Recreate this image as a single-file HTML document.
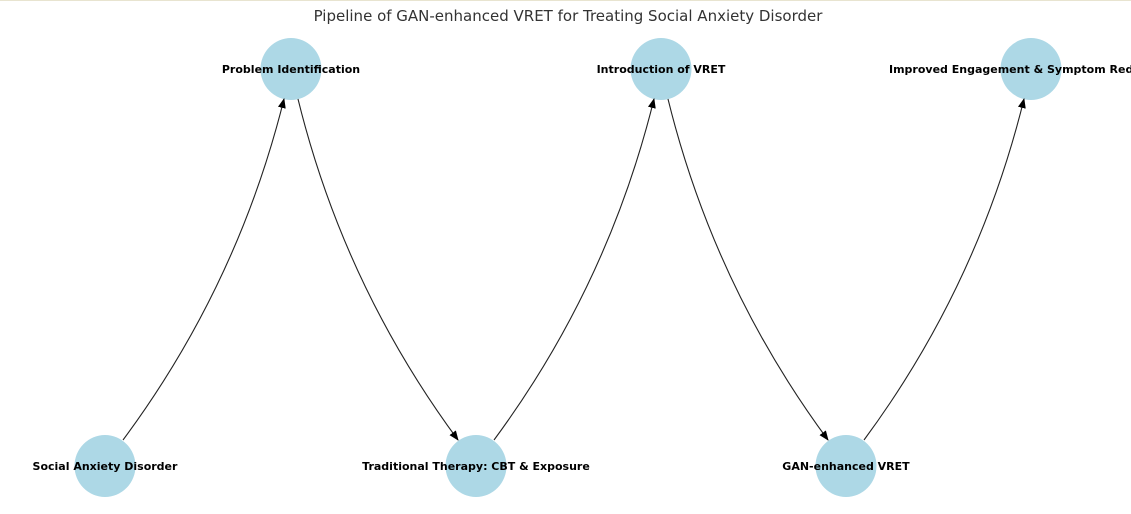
<!DOCTYPE html>
<html><head><meta charset="utf-8"><style>
html,body{margin:0;padding:0;background:#fff;}
svg{display:block;}
</style></head><body>
<svg width="1131" height="514" viewBox="0 0 1131 514" xmlns="http://www.w3.org/2000/svg">
<defs>
<marker id="ah" markerWidth="10" markerHeight="8" refX="9" refY="4" orient="auto" markerUnits="userSpaceOnUse">
<path d="M0,0 L10,4 L0,8 Z" fill="#000"/>
</marker>
</defs>
<rect x="0" y="0" width="1131" height="1" fill="#e8e4d0"/>
<text x="568" y="21" text-anchor="middle" font-family="DejaVu Sans, sans-serif" font-size="15" fill="#333">Pipeline of GAN-enhanced VRET for Treating Social Anxiety Disorder</text>
<g fill="#add8e6">
<ellipse cx="105" cy="466" rx="30.5" ry="31"/>
<ellipse cx="291" cy="69" rx="30.5" ry="31"/>
<ellipse cx="476" cy="466" rx="30.5" ry="31"/>
<ellipse cx="661" cy="69" rx="30.5" ry="31"/>
<ellipse cx="846" cy="466" rx="30.5" ry="31"/>
<ellipse cx="1031" cy="69" rx="30.5" ry="31"/>
</g>
<g fill="none" stroke="#222" stroke-width="1.1" marker-end="url(#ah)">
<path d="M123,440 Q237.6,285.6 284,99"/>
<path d="M298,99 Q343.9,285.5 458,440"/>
<path d="M494,440 Q608.1,285.5 654,99"/>
<path d="M668,99 Q713.9,285.5 828,440"/>
<path d="M864,440 Q978.1,285.5 1024,99"/>
</g>
<g font-family="DejaVu Sans, sans-serif" font-size="11" font-weight="bold" fill="#000" text-anchor="middle">
<text x="105" y="470">Social Anxiety Disorder</text>
<text x="291" y="73">Problem Identification</text>
<text x="476" y="470">Traditional Therapy: CBT &amp; Exposure</text>
<text x="661" y="73">Introduction of VRET</text>
<text x="846" y="470">GAN-enhanced VRET</text>
<text x="1031" y="73" text-anchor="start" dx="-142">Improved Engagement &amp; Symptom Reduction</text>
</g>
</svg>
</body></html>
